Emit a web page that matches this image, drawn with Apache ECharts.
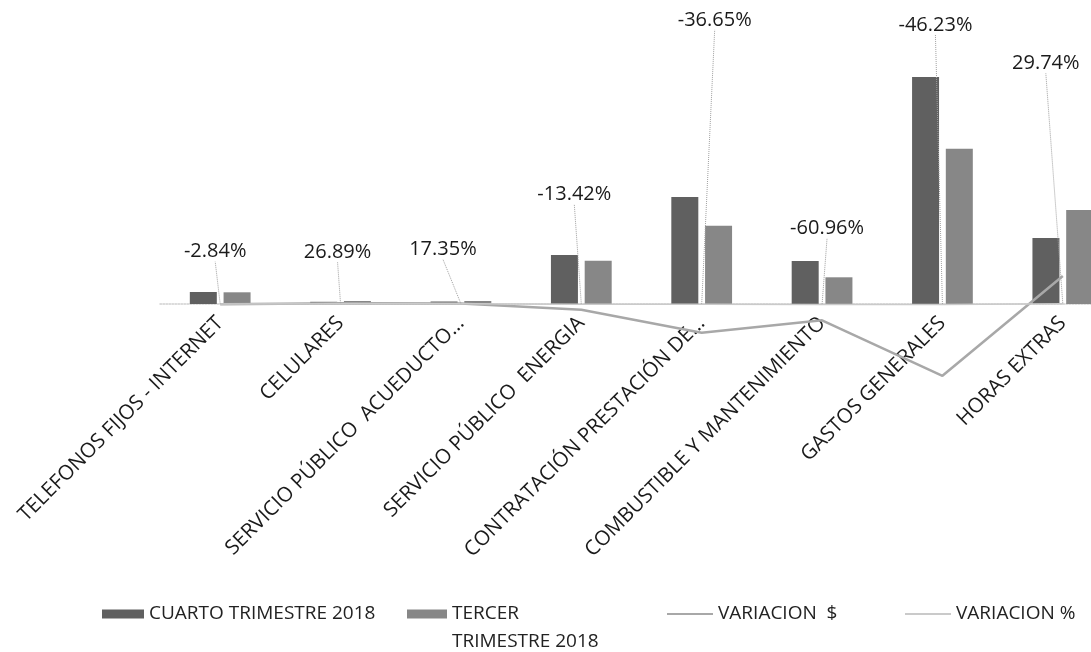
<!DOCTYPE html>
<html>
<head>
<meta charset="utf-8">
<script src="https://cdn.jsdelivr.net/npm/echarts@6/dist/echarts.min.js"></script>
<style>
  html, body { margin: 0; padding: 0; background: #ffffff; }
  #chart { width: 1091px; height: 652px; }
</style>
</head>
<body>
<div id="chart"></div>
<script>
// ---- data ----
const categories = [
  'TELEFONOS FIJOS - INTERNET',
  'CELULARES',
  'SERVICIO PÚBLICO  ACUEDUCTO…',
  'SERVICIO PÚBLICO  ENERGIA',
  'CONTRATACIÓN PRESTACIÓN DE…',
  'COMBUSTIBLE Y MANTENIMIENTO',
  'GASTOS GENERALES',
  'HORAS EXTRAS'
];
const cuartoTrimestre = [12.0, 2.2, 2.5, 49.0, 107.0, 43.0, 227.0, 66.0];
const tercerTrimestre = [11.7, 3.0, 3.0, 43.2, 78.3, 26.7, 155.2, 94.0];
const variacionPesos  = [-0.3, 0.8, 0.5, -5.8, -28.7, -16.3, -71.8, 28.0];
const variacionPct    = [-0.0284, 0.2689, 0.1735, -0.1342, -0.3665, -0.6096, -0.4623, 0.2974];

// ---- label placement (styling only) ----
const pctLabelDy = [-37, -36, -39, -94, -269, -61, -264, -225];
const pctLabelDx = [-5, -3, -18, -7, 13, 5, -7, -17];

const FONT = 'Open Sans';
const chart = echarts.init(document.getElementById('chart'));

const legendText = { fontFamily: FONT, fontSize: 19, color: '#222', lineHeight: 28 };

chart.setOption({
  animation: false,
  backgroundColor: '#ffffff',
  grid: {
    left: 160, width: 963, top: 14, height: 290,
    containLabel: false, outerBoundsMode: 'none'
  },
  xAxis: {
    type: 'category',
    data: categories,
    axisTick: { show: false },
    axisLine: { show: true, lineStyle: { color: '#cfcfcf', width: 1.5, type: 'dotted' } },
    axisLabel: {
      interval: 0,
      rotate: 45,
      margin: 16,
      fontFamily: FONT,
      fontSize: 20.5,
      color: '#1a1a1a'
    }
  },
  yAxis: {
    type: 'value',
    min: 0,
    max: 290,
    show: false,
    splitLine: { show: false }
  },
  legend: [
    {
      left: 97, top: 595, itemGap: 0, textStyle: legendText,
      data: [{ name: 'CUARTO TRIMESTRE 2018', icon: 'rect' }],
      itemWidth: 42, itemHeight: 9
    },
    {
      left: 402, top: 567, itemGap: 0,
      data: [{ name: 'TERCER TRIMESTRE 2018', icon: 'rect' }],
      itemWidth: 40, itemHeight: 9,
      formatter: function () { return ' \nTERCER\nTRIMESTRE 2018'; },
      textStyle: legendText
    },
    {
      left: 662, top: 595, itemGap: 0, textStyle: legendText,
      data: [{ name: 'VARIACION  $', icon: 'rect' }],
      itemWidth: 46, itemHeight: 2
    },
    {
      left: 900, top: 595, itemGap: 0, textStyle: legendText,
      data: [{ name: 'VARIACION %', icon: 'rect' }],
      itemWidth: 46, itemHeight: 2
    }
  ],
  series: [
    {
      name: 'CUARTO TRIMESTRE 2018',
      type: 'bar',
      data: cuartoTrimestre,
      barWidth: 27,
      barGap: '25%',
      itemStyle: { color: '#606060' }
    },
    {
      name: 'TERCER TRIMESTRE 2018',
      type: 'bar',
      data: tercerTrimestre,
      barWidth: 27,
      barGap: '25%',
      itemStyle: { color: '#878787' }
    },
    {
      name: 'VARIACION  $',
      type: 'line',
      data: variacionPesos,
      symbol: 'none',
      clip: false,
      lineStyle: { color: '#a8a8a8', width: 2.5 },
      itemStyle: { color: '#a8a8a8' },
      z: 5
    },
    {
      name: 'VARIACION %',
      type: 'line',
      data: variacionPct,
      symbol: 'circle',
      symbolSize: 1,
      showSymbol: true,
      clip: false,
      lineStyle: { color: '#cacaca', width: 1.5 },
      itemStyle: { color: '#cacaca' },
      label: {
        show: true,
        position: 'top',
        fontFamily: FONT,
        fontSize: 20,
        color: '#1a1a1a',
        formatter: function (p) { return (p.value * 100).toFixed(2) + '%'; }
      },
      labelLine: {
        show: true,
        lineStyle: { color: '#a0a0a0', width: 1, type: 'dotted' }
      },
      labelLayout: function (params) {
        return { dx: pctLabelDx[params.dataIndex], dy: pctLabelDy[params.dataIndex] };
      },
      z: 6
    }
  ]
});
</script>
</body>
</html>
